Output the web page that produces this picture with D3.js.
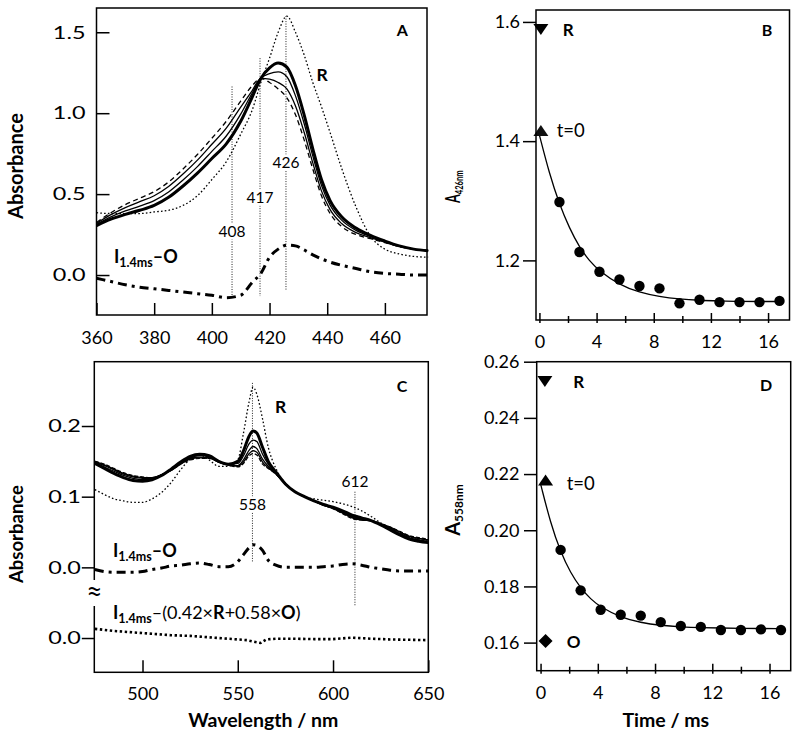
<!DOCTYPE html>
<html><head><meta charset="utf-8">
<script src="https://cdn.jsdelivr.net/npm/d3@7"></script>
<style>body{margin:0;background:#fff}svg{display:block}</style>
</head><body><svg id="c" width="800" height="740"></svg>
<script>
// ---------------- Panel A: Soret region spectra ----------------
const wlA = [360,365,370,375,380,385,390,395,400,405,410,414,417,420,423,426,429,432,435,438,441,445,450,455,460,465,470,475];
const specA_R  = [0.385,0.38,0.38,0.38,0.39,0.40,0.43,0.49,0.59,0.70,0.87,1.02,1.19,1.34,1.50,1.60,1.50,1.36,1.19,1.04,0.88,0.66,0.42,0.24,0.16,0.13,0.115,0.11];
const specA_I  = [0.305,0.345,0.375,0.40,0.43,0.48,0.55,0.63,0.72,0.81,0.95,1.10,1.215,1.28,1.31,1.285,1.17,0.99,0.78,0.59,0.46,0.36,0.29,0.245,0.21,0.18,0.16,0.15];
const specA_t1 = [0.312,0.359,0.396,0.426,0.46,0.513,0.587,0.67,0.764,0.859,0.994,1.125,1.215,1.245,1.255,1.225,1.107,0.936,0.736,0.555,0.432,0.339,0.276,0.238,0.207,0.178,0.16,0.15];
const specA_t2 = [0.319,0.373,0.417,0.453,0.49,0.547,0.624,0.71,0.808,0.908,1.038,1.14,1.215,1.21,1.19,1.15,1.044,0.882,0.693,0.52,0.404,0.318,0.262,0.231,0.203,0.177,0.16,0.15];
const specA_O  = [0.325,0.385,0.435,0.475,0.515,0.575,0.655,0.745,0.845,0.95,1.075,1.17,1.215,1.19,1.15,1.095,0.99,0.835,0.655,0.49,0.38,0.30,0.25,0.225,0.20,0.175,0.16,0.15];
const specA_diff = [-0.02,-0.04,-0.06,-0.075,-0.085,-0.095,-0.105,-0.115,-0.125,-0.14,-0.125,-0.045,0.01,0.11,0.16,0.185,0.18,0.155,0.125,0.10,0.08,0.06,0.04,0.02,0.01,0.005,0.0,0.0];
const ticksAx = [360,380,400,420,440,460];
const ticksAy = [0,0.5,1.0,1.5];
const guideA_w = [407,416.7,425.7];
const guideA_text = ["408","417","426"];
const guideA_top = [1.165,1.34,1.60];
const guideA_bot = [-0.142,-0.13,-0.093];
const guideA_labV = [0.235,0.443,0.659];

// ---------------- Panel B: kinetics at 426 nm ----------------
const timeB = [1.4,2.8,4.2,5.6,7.0,8.4,9.8,11.2,12.6,14.0,15.4,16.8];
const absB  = [1.298,1.214,1.181,1.168,1.157,1.153,1.128,1.134,1.130,1.130,1.130,1.132];
const fitTimeB = [0,0.7,1.4,2.1,2.8,3.5,4.2,5.6,7.0,8.4,9.8,11.2,12.6,14.0,15.4,16.8];
const fitB = [1.410,1.345,1.294,1.254,1.222,1.199,1.182,1.159,1.146,1.139,1.135,1.133,1.132,1.131,1.131,1.131];
const markB_R = [0.1,1.588];
const markB_t0 = [0.1,1.417];
const ticksBx = [0,4,8,12,16];
const minorBx = [2,6,10,14];
const ticksBy = [1.2,1.4,1.6];

// ---------------- Panel C: visible region spectra ----------------
const wlC = [475,480,485,490,495,500,505,510,515,520,525,530,535,540,545,550,553,556,558,560,563,566,570,575,580,585,590,595,600,605,610,615,620,625,630,635,640,645,650];
const specC_R  = [0.110,0.103,0.097,0.094,0.092,0.092,0.097,0.106,0.120,0.138,0.153,0.159,0.152,0.143,0.143,0.152,0.19,0.235,0.255,0.245,0.21,0.17,0.14,0.119,0.107,0.100,0.097,0.095,0.093,0.090,0.086,0.080,0.072,0.063,0.055,0.048,0.043,0.039,0.037];
const specC_I  = [0.147,0.140,0.133,0.127,0.123,0.122,0.124,0.130,0.139,0.149,0.157,0.160,0.158,0.150,0.146,0.150,0.165,0.186,0.193,0.190,0.170,0.150,0.135,0.118,0.107,0.100,0.094,0.089,0.085,0.080,0.074,0.070,0.066,0.060,0.053,0.046,0.040,0.037,0.035];
const specC_t1 = [0.148,0.142,0.136,0.130,0.126,0.124,0.125,0.130,0.138,0.148,0.155,0.158,0.156,0.150,0.146,0.147,0.158,0.175,0.180,0.178,0.160,0.146,0.134,0.118,0.107,0.100,0.094,0.089,0.084,0.078,0.072,0.069,0.066,0.061,0.055,0.048,0.042,0.039,0.037];
const specC_t2 = [0.149,0.144,0.138,0.132,0.128,0.126,0.126,0.131,0.138,0.147,0.154,0.156,0.155,0.149,0.145,0.144,0.152,0.166,0.171,0.168,0.153,0.143,0.133,0.118,0.107,0.100,0.094,0.088,0.084,0.077,0.071,0.068,0.066,0.061,0.056,0.050,0.044,0.041,0.039];
const specC_t3 = [0.150,0.145,0.139,0.133,0.129,0.127,0.127,0.131,0.137,0.146,0.153,0.155,0.155,0.149,0.145,0.143,0.149,0.161,0.165,0.163,0.149,0.141,0.132,0.118,0.107,0.100,0.094,0.088,0.083,0.077,0.070,0.067,0.066,0.062,0.057,0.050,0.044,0.041,0.039];
const specC_O  = [0.150,0.146,0.140,0.134,0.130,0.128,0.127,0.131,0.137,0.146,0.152,0.154,0.154,0.149,0.145,0.142,0.147,0.158,0.161,0.159,0.146,0.140,0.132,0.118,0.107,0.100,0.094,0.088,0.083,0.076,0.069,0.067,0.066,0.062,0.057,0.051,0.045,0.042,0.040];
const specC_diff = [-0.003,-0.006,-0.007,-0.007,-0.007,-0.006,-0.003,-0.001,0.002,0.003,0.005,0.006,0.004,0.001,0.001,0.008,0.018,0.028,0.032,0.031,0.024,0.010,0.003,0.0,0.0,0.0,0.0,0.001,0.002,0.004,0.005,0.003,0.0,-0.002,-0.004,-0.005,-0.005,-0.005,-0.005];
const wlRes = [475,485,495,505,515,525,535,545,550,555,558,562,565,570,580,590,600,610,620,630,640,650];
const specC_res = [0.013,0.010,0.008,0.006,0.004,0.003,0.001,-0.001,-0.002,-0.003,-0.005,-0.007,-0.002,-0.001,-0.001,-0.0015,-0.0015,0.0005,-0.001,-0.002,-0.0025,-0.003];
const ticksCx = [500,550,600,650];
const ticksCy = [0.0,0.1,0.2];
const guideC_w = [557.7,611.5];
const guideC_text = ["558","612"];
const guideC_top = [0.261,0.107];
const guideC_bot = [0.0075,-0.055];
const guideC_labV = [0.081,0.114];

// ---------------- Panel D: kinetics at 558 nm ----------------
const timeD = [1.4,2.8,4.2,5.6,7.0,8.4,9.8,11.2,12.6,14.0,15.4,16.8];
const absD  = [0.1930,0.1786,0.1717,0.1699,0.1696,0.1673,0.1659,0.1656,0.1645,0.1645,0.1647,0.1645];
const fitTimeD = [0,0.7,1.4,2.1,2.8,3.5,4.2,5.6,7.0,8.4,9.8,11.2,12.6,14.0,15.4,16.8];
const fitD = [0.2165,0.2025,0.1922,0.1848,0.1794,0.1755,0.1726,0.1690,0.1671,0.1661,0.1656,0.1653,0.1652,0.1651,0.1650,0.1650];
const markD_R = [0.3,0.2531];
const markD_t0 = [0.35,0.2177];
const markD_O = [0.35,0.1606];
const ticksDx = [0,4,8,12,16];
const minorDx = [2,6,10,14];
const ticksDy = [0.16,0.18,0.20,0.22,0.24,0.26];

// =====================================================================
const FONT = "Lato, 'Open Sans', 'DejaVu Sans', sans-serif";
const svg = d3.select('#c').attr('font-family', FONT);
svg.append('rect').attr('width',800).attr('height',740).attr('fill','#fff');

function styleAxis(g, size){
  g.select('.domain').remove();
  g.attr('font-family', null).attr('font-size', null);
  g.selectAll('.tick line').attr('stroke','#000').attr('stroke-width',1.5);
  g.selectAll('.tick text').attr('font-size', size).attr('fill','#000');
}
function frame(x, y){
  const [x0,x1] = x.range(), [y1,y0] = y.range();
  svg.append('rect').attr('x',x0).attr('y',y0).attr('width',x1-x0).attr('height',y1-y0)
    .attr('fill','none').attr('stroke','#000').attr('stroke-width',1.5);
}
function drawLine(g, xs, ys, x, y, style, curve){
  const ln = d3.line().x(d=>x(d[0])).y(d=>y(d[1])).curve(curve || d3.curveMonotoneX);
  const p = g.append('path').datum(d3.zip(xs, ys)).attr('d', ln).attr('fill','none').attr('stroke','#000');
  Object.entries(style).forEach(([k,v])=>p.attr(k,v));
  return p;
}
function label(x, y, parts, anchor){
  const t = svg.append('text').attr('x',x).attr('y',y).attr('fill','#000').attr('text-anchor',anchor||'start');
  parts.forEach(p=>{
    const s = t.append('tspan').text(p.t).attr('font-size',p.s).attr('font-weight',p.b?'bold':'normal');
    if(p.dy) s.attr('dy',p.dy);
  });
  return t;
}
function guides(g, x, y, ws, tops, bots, texts, labVs){
  ws.forEach((w,i)=>{
    g.append('line').attr('x1',x(w)).attr('x2',x(w)).attr('y1',y(tops[i])).attr('y2',y(bots[i]))
      .attr('stroke','#222').attr('stroke-width',1).attr('stroke-dasharray','1,1.5');
    g.append('text').attr('x',x(w)).attr('y',y(labVs[i])).attr('text-anchor','middle')
      .attr('font-size',15.5).attr('fill','#000').attr('stroke','#fff').attr('stroke-width',5)
      .attr('paint-order','stroke').text(texts[i]);
  });
}
const thick = {'stroke-width':3};
const thin = {'stroke-width':1.3};
const dashed = {'stroke-width':1.3,'stroke-dasharray':'5,3.5'};
const dotted = {'stroke-width':1.3,'stroke-dasharray':'1.6,2.2'};
const dashdot = {'stroke-width':3,'stroke-dasharray':'9,5,3,5'};
const resDots = {'stroke-width':2.6,'stroke-dasharray':'2.4,2.6'};

// ---------------- Panel A ----------------
const xA = d3.scaleLinear().domain([360,474.6]).range([96.5,427]);
const yA = d3.scaleLinear().domain([-0.247,1.65]).range([315,8]);
const gA = svg.append('g');
guides(gA, xA, yA, guideA_w, guideA_top, guideA_bot, guideA_text, guideA_labV);
drawLine(gA, wlA, specA_R, xA, yA, dotted);
drawLine(gA, wlA, specA_O, xA, yA, dashed);
drawLine(gA, wlA, specA_t2, xA, yA, thin);
drawLine(gA, wlA, specA_t1, xA, yA, thin);
drawLine(gA, wlA, specA_I, xA, yA, thick);
drawLine(gA, wlA, specA_diff, xA, yA, dashdot);
gA.selectAll('text').raise();
let ax = svg.append('g').attr('transform','translate(0,315)')
  .call(d3.axisBottom(xA).tickValues(ticksAx).tickFormat(d3.format('d')).tickSizeInner(-12).tickSizeOuter(0).tickPadding(16));
styleAxis(ax, 18);
ax = svg.append('g').attr('transform','translate(96.5,0)')
  .call(d3.axisLeft(yA).tickValues(ticksAy).tickFormat(d3.format('.1f')).tickSizeInner(-13).tickSizeOuter(0).tickPadding(11));
styleAxis(ax, 18);
ax.selectAll('.tick text').attr('transform','scale(1.3,1)').attr('x', -11/1.3);
frame(xA, yA);

// ---------------- Panel B ----------------
const xB = d3.scaleLinear().domain([-0.24,17.5]).range([536,789.5]);
const yB = d3.scaleLinear().domain([1.1,1.62]).range([320,10]);
const gB = svg.append('g');
drawLine(gB, fitTimeB, fitB, xB, yB, {'stroke-width':1.3}, d3.curveBasis);
gB.selectAll('circle').data(d3.zip(timeB, absB)).join('circle')
  .attr('cx',d=>xB(d[0])).attr('cy',d=>yB(d[1])).attr('r',5.2).attr('fill','#000');
const triDown = 'M-7.5,-5L7.5,-5L0,6Z', triUp = 'M-7.5,5L7.5,5L0,-6Z', diamond = 'M0,-7L7,0L0,7L-7,0Z';
gB.append('path').attr('d',triDown).attr('transform',`translate(${xB(markB_R[0])},${yB(markB_R[1])})`).attr('fill','#000');
gB.append('path').attr('d',triUp).attr('transform',`translate(${xB(markB_t0[0])},${yB(markB_t0[1])})`).attr('fill','#111');
ax = svg.append('g').attr('transform','translate(0,320)')
  .call(d3.axisBottom(xB).tickValues(ticksBx).tickFormat(d3.format('d')).tickSizeInner(-7).tickSizeOuter(0).tickPadding(15));
styleAxis(ax, 18); ax.selectAll('.tick line').attr('y1',3);
ax = svg.append('g').attr('transform','translate(0,320)')
  .call(d3.axisBottom(xB).tickValues(minorBx).tickFormat('').tickSizeInner(-4).tickSizeOuter(0));
styleAxis(ax, 18); ax.selectAll('.tick line').attr('y1',3);
ax = svg.append('g').attr('transform','translate(536,0)')
  .call(d3.axisLeft(yB).tickValues(ticksBy).tickFormat(d3.format('.1f')).tickSizeInner(13).tickSizeOuter(0).tickPadding(3));
styleAxis(ax, 18);
frame(xB, yB);

// ---------------- Panel C ----------------
const xC = d3.scaleLinear().domain([474.7,650]).range([94.3,428.3]);
const yC = d3.scaleLinear().domain([-0.1485,0.291]).range([672.3,361.7]);
const resShift = -0.1; // axis break: residual trace drawn one 0.1 step lower
const gC = svg.append('g');
guides(gC, xC, yC, guideC_w, guideC_top, guideC_bot, guideC_text, guideC_labV);
drawLine(gC, wlC, specC_R, xC, yC, dotted);
drawLine(gC, wlC, specC_O, xC, yC, {'stroke-width':1.2,'stroke-dasharray':'4,2'});
drawLine(gC, wlC, specC_t3, xC, yC, thin);
drawLine(gC, wlC, specC_t2, xC, yC, thin);
drawLine(gC, wlC, specC_t1, xC, yC, thin);
drawLine(gC, wlC, specC_I, xC, yC, thick);
drawLine(gC, wlC, specC_diff, xC, yC, dashdot);
drawLine(gC, wlRes, specC_res.map(v=>v+resShift), xC, yC, resDots, d3.curveLinear);
gC.selectAll('text').raise();
ax = svg.append('g').attr('transform','translate(0,672.3)')
  .call(d3.axisBottom(xC).tickValues(ticksCx).tickFormat(d3.format('d')).tickSizeInner(-12).tickSizeOuter(0).tickPadding(15));
styleAxis(ax, 18);
ax = svg.append('g').attr('transform','translate(94.3,0)')
  .call(d3.axisLeft(yC).tickValues(ticksCy.concat([resShift])).tickFormat(d=> d3.format('.1f')(d < -0.05 ? d - resShift : d)).tickSizeInner(12.5).tickSizeOuter(0).tickPadding(1));
styleAxis(ax, 18);
ax.selectAll('.tick text').attr('transform','scale(1.3,1)').attr('x', -13.5/1.3);
frame(xC, yC);
// axis break mark
svg.append('rect').attr('x',88).attr('y',580).attr('width',13).attr('height',26).attr('fill','#fff');
svg.append('text').attr('x',94.3).attr('y',602).attr('text-anchor','middle').attr('font-size',28).attr('fill','#000').text('≈');

// ---------------- Panel D ----------------
const xD = d3.scaleLinear().domain([-0.27,17.48]).range([536.7,790.7]);
const yD = d3.scaleLinear().domain([0.15,0.26]).range([670.7,361.7]);
const gD = svg.append('g');
drawLine(gD, fitTimeD, fitD, xD, yD, {'stroke-width':1.3}, d3.curveBasis);
gD.selectAll('circle').data(d3.zip(timeD, absD)).join('circle')
  .attr('cx',d=>xD(d[0])).attr('cy',d=>yD(d[1])).attr('r',5.2).attr('fill','#000');
gD.append('path').attr('d',triDown).attr('transform',`translate(${xD(markD_R[0])},${yD(markD_R[1])})`).attr('fill','#000');
gD.append('path').attr('d',triUp).attr('transform',`translate(${xD(markD_t0[0])},${yD(markD_t0[1])})`).attr('fill','#000');
gD.append('path').attr('d',diamond).attr('transform',`translate(${xD(markD_O[0])},${yD(markD_O[1])})`).attr('fill','#000');
ax = svg.append('g').attr('transform','translate(0,670.7)')
  .call(d3.axisBottom(xD).tickValues(ticksDx).tickFormat(d3.format('d')).tickSizeInner(-7).tickSizeOuter(0).tickPadding(16));
styleAxis(ax, 18); ax.selectAll('.tick line').attr('y1',3);
ax = svg.append('g').attr('transform','translate(0,670.7)')
  .call(d3.axisBottom(xD).tickValues(minorDx).tickFormat('').tickSizeInner(-4).tickSizeOuter(0));
styleAxis(ax, 18); ax.selectAll('.tick line').attr('y1',3);
ax = svg.append('g').attr('transform','translate(536.7,0)')
  .call(d3.axisLeft(yD).tickValues(ticksDy).tickFormat(d3.format('.2f')).tickSizeInner(12.7).tickSizeOuter(0).tickPadding(4.5));
styleAxis(ax, 18);
frame(xD, yD);

// ---------------- Text annotations ----------------
label(396.7, 36.3, [{t:'A',s:16,b:true}]);
label(761.7, 36, [{t:'B',s:16,b:true}]);
label(396.7, 391.7, [{t:'C',s:16,b:true}]);
label(760, 390.7, [{t:'D',s:16,b:true}]);
label(316.5, 80.7, [{t:'R',s:17.5,b:true}]);
label(275, 413.3, [{t:'R',s:17.5,b:true}]);
label(562.7, 36, [{t:'R',s:17,b:true}]);
label(556.7, 137.3, [{t:'t=0',s:18.5}]);
label(573.3, 388.3, [{t:'R',s:17,b:true}]);
label(566.7, 490, [{t:'t=0',s:18.5}]);
label(566.7, 648.3, [{t:'O',s:17,b:true}]);
label(114, 263.3, [{t:'I',s:18,b:true},{t:'1.4ms',s:12.5,b:true,dy:4},{t:'–O',s:18,b:true,dy:-4}]);
label(113, 556.7, [{t:'I',s:18,b:true},{t:'1.4ms',s:12.5,b:true,dy:4},{t:'–O',s:18,b:true,dy:-4}]);
label(113, 619.3, [{t:'I',s:18,b:true},{t:'1.4ms',s:12.5,b:true,dy:4},{t:'–(0.42×',s:18,dy:-4},{t:'R',s:18,b:true},{t:'+0.58×',s:18},{t:'O',s:18,b:true},{t:')',s:18}]);

// axis titles
svg.append('text').attr('transform','translate(23,166) rotate(-90)').attr('text-anchor','middle')
  .attr('font-size',20).attr('font-weight','bold').attr('fill','#000').text('Absorbance');
svg.append('text').attr('transform','translate(23,534) rotate(-90)').attr('text-anchor','middle')
  .attr('font-size',18.5).attr('font-weight','bold').attr('fill','#000').text('Absorbance');
label(263.3, 727, [{t:'Wavelength / nm',s:19.5,b:true}], 'middle');
label(665.8, 727, [{t:'Time / ms',s:19.5,b:true}], 'middle');
function ylabK(x, y, sub, sx){
  const t = svg.append('text').attr('transform',`translate(${x},${y}) rotate(-90) scale(${sx},1)`)
    .attr('text-anchor','middle').attr('fill','#000').attr('font-weight','bold');
  t.append('tspan').text('A').attr('font-size',20);
  t.append('tspan').text(sub).attr('font-size',12).attr('dy',3);
}
ylabK(460, 186.7, '426nm', 0.63);
ylabK(460, 510, '558nm', 1);
</script></body></html>
